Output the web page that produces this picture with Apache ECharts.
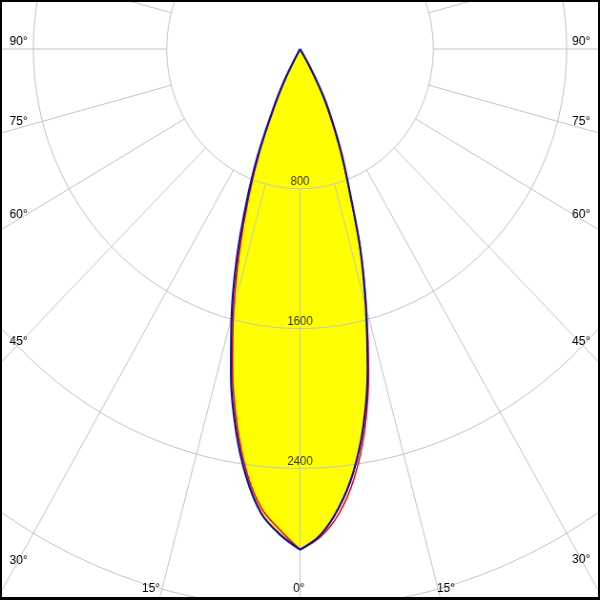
<!DOCTYPE html>
<html>
<head>
<meta charset="utf-8">
<script src="https://cdn.jsdelivr.net/npm/echarts@6/dist/echarts.min.js"></script>
<style>
html,body{margin:0;padding:0;width:600px;height:600px;overflow:hidden;background:#fff;}
#wrap{position:relative;width:600px;height:600px;overflow:hidden;}
#chart{position:absolute;left:0;top:0;width:629px;height:600px;transform:scaleX(0.95390);transform-origin:0 0;}
#frame{position:absolute;left:0;top:0;width:600px;height:600px;box-sizing:border-box;border-style:solid;border-color:#000;border-width:2px 2px 3px 2px;pointer-events:none;}
</style>
</head>
<body>
<div id="wrap"><div id="chart"></div><div id="frame"></div></div>
<script>
// ---- data (cd) ----
const angles    = [0, 2.5, 5, 7.5, 10, 12.5, 15, 17.5, 20, 22.5, 25, 27.5, 30, 32.5];
const blueLeft  = [2865, 2780, 2668, 2470, 2215, 1913, 1585, 1265, 945, 665, 390, 200, 0, 0];
const blueRight = [2865, 2785, 2640, 2445, 2190, 1875, 1525, 1205, 875, 655, 460, 300, 120, 0];
const redLeft   = [2865, 2755, 2640, 2445, 2180, 1870, 1535, 1205, 900, 625, 360, 180, 0, 0];
const redRight  = [2865, 2795, 2670, 2480, 2225, 1900, 1540, 1208, 870, 640, 440, 285, 105, 0];
const ringValues = [800, 1600, 2400];
const spokeAngles = [-180,-165,-150,-135,-120,-105,-90,-75,-60,-45,-30,-15,0,15,30,45,60,75,90,105,120,135,150,165];
const angleTickLabels = ['0°','15°','30°','45°','60°','75°','90°','15°','30°','45°','60°','75°','90°'];

// ---- layout ----
const k = 600 / 629;               // horizontal compression applied by CSS
const labelPos = [                 // final pixel positions (left x, middle y)
  [293, 589],
  [142, 589], [9.5, 561], [9.5, 342], [9.5, 215], [9.5, 122], [9.5, 42],
  [437, 589], [572, 560], [572, 342], [572, 215], [572, 122], [572, 42]
];
const gridColor = '#c4c4c4';
const fontFam = '"Liberation Sans", Arial, sans-serif';

function outline(left, right) {
  const pts = [];
  for (let i = angles.length - 1; i > 0; i--) pts.push([right[i], -angles[i]]);
  for (let i = 0; i < angles.length; i++) pts.push([left[i], angles[i]]);
  return pts;
}
function half(vals, sign) {
  return angles.map((a, i) => [vals[i], sign * a]);
}

const series = [];
series.push({
  type: 'line', coordinateSystem: 'polar', data: outline(blueLeft, blueRight),
  symbol: 'none', smooth: false, silent: true, z: 2,
  lineStyle: { width: 0, opacity: 0 },
  areaStyle: { color: '#ffff00', opacity: 1 }
});
spokeAngles.forEach(a => {
  series.push({
    type: 'line', coordinateSystem: 'polar', data: [[800, a], [4000, a]],
    symbol: 'none', silent: true, z: 3,
    lineStyle: { color: gridColor, width: 1 }
  });
});
series.push({
  type: 'scatter', coordinateSystem: 'polar', data: ringValues.map(v => [v, 0]),
  symbolSize: 0, silent: true, z: 3,
  label: { show: true, position: 'top', distance: 1, color: '#000', fontSize: 12, fontFamily: fontFam,
           formatter: p => String(p.value[0]) }
});
function curve(data, color, width, z) {
  return {
    type: 'line', coordinateSystem: 'polar', data: data,
    symbol: 'none', smooth: 0.35, silent: true, z: z,
    lineStyle: { color: color, width: width }
  };
}
series.push(curve(half(redLeft, 1), '#ff0000', 1.5, 4));
series.push(curve(half(redRight, -1), '#ff0000', 1.5, 4));
series.push(curve(half(blueLeft, 1), '#12129a', 2.2, 5));
series.push(curve(half(blueRight, -1), '#12129a', 2.2, 5));

const chart = echarts.init(document.getElementById('chart'), null, { renderer: 'canvas' });
chart.setOption({
  animation: false,
  backgroundColor: '#ffffff',
  polar: { center: [300 / k, 49], radius: 699 },
  angleAxis: {
    type: 'value', min: -180, max: 180, startAngle: 90, clockwise: true,
    axisLine: { show: false }, axisTick: { show: false }, axisLabel: { show: false },
    splitLine: { show: false }
  },
  radiusAxis: {
    type: 'value', min: 0, max: 4000, interval: 800, z: 3,
    axisLine: { show: false }, axisTick: { show: false }, axisLabel: { show: false },
    splitLine: { show: true, lineStyle: { color: gridColor, width: 1 } }
  },
  graphic: {
    elements: angleTickLabels.map((t, i) => ({
      type: 'text', x: labelPos[i][0] / k, y: labelPos[i][1], scaleX: 1 / k, z: 10, silent: true,
      style: { text: t, fill: '#000', font: '12px ' + fontFam, textAlign: 'left',
               verticalAlign: 'middle', textVerticalAlign: 'middle' }
    }))
  },
  series: series
});
</script>
</body>
</html>
